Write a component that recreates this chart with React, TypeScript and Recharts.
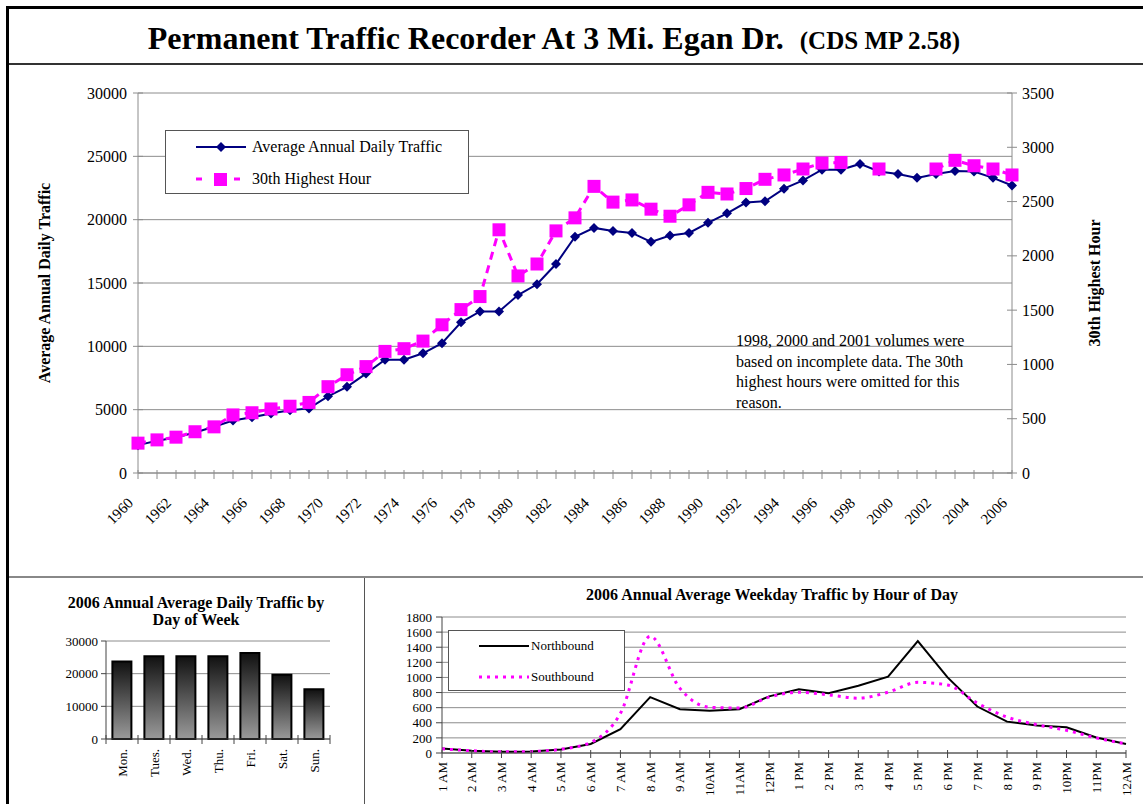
import React from "react";
import { LineChart, BarChart, Line, Bar, XAxis, YAxis, CartesianGrid, Legend } from "recharts";

const SERIF = "'Liberation Serif', 'Times New Roman', serif";

// main chart: 1960-2006
const years = [
  1960, 1961, 1962, 1963, 1964, 1965, 1966, 1967, 1968, 1969,
  1970, 1971, 1972, 1973, 1974, 1975, 1976, 1977, 1978, 1979,
  1980, 1981, 1982, 1983, 1984, 1985, 1986, 1987, 1988, 1989,
  1990, 1991, 1992, 1993, 1994, 1995, 1996, 1997, 1998, 1999,
  2000, 2001, 2002, 2003, 2004, 2005, 2006,
];
const aadt = [
  2200, 2550, 2800, 3200, 3650, 4150, 4400, 4700, 4950, 5100,
  6050, 6800, 7850, 8950, 8950, 9450, 10250, 11900, 12750, 12750,
  14050, 14900, 16500, 18650, 19350, 19100, 18950, 18250, 18750, 18950,
  19750, 20500, 21350, 21450, 22450, 23100, 23950, 23950, 24400, 23800,
  23600, 23300, 23600, 23850, 23800, 23300, 22700,
];
const hour30: (number | null)[] = [
  275, 305, 330, 380, 425, 535, 555, 590, 615, 650,
  795, 905, 980, 1120, 1145, 1215, 1365, 1505, 1625, 2240,
  1815, 1925, 2230, 2350, 2640, 2495, 2515, 2430, 2365, 2470,
  2585, 2570, 2620, 2705, 2745, 2800, 2855, 2860, null, 2800,
  null, null, 2800, 2880, 2830, 2800, 2745,
];
const leftTicks = [0, 5000, 10000, 15000, 20000, 25000, 30000];
const rightTicks = [0, 500, 1000, 1500, 2000, 2500, 3000, 3500];

// day of week bars
const days = ["Mon.", "Tues.", "Wed.", "Thu.", "Fri.", "Sat.", "Sun."];
const dayVolumes = [23700, 25300, 25300, 25300, 26300, 19700, 15200];
const dayTicks = [0, 10000, 20000, 30000];

// hourly weekday traffic
const hours = [
  "1 AM", "2 AM", "3 AM", "4 AM", "5 AM", "6 AM", "7 AM", "8 AM", "9 AM", "10AM", "11AM", "12PM",
  "1 PM", "2 PM", "3 PM", "4 PM", "5 PM", "6 PM", "7 PM", "8 PM", "9 PM", "10PM", "11PM", "12AM",
];
const northbound = [
  60, 30, 15, 20, 45, 120, 315, 740, 580, 560, 580, 750,
  845, 790, 890, 1010, 1480, 1000, 615, 415, 365, 340, 205, 120,
];
const southbound = [
  55, 30, 15, 20, 50, 140, 525, 1545, 855, 605, 595, 740,
  805, 770, 725, 805, 935, 900, 660, 475, 375, 300, 200, 120,
];
const hourTicks = [0, 200, 400, 600, 800, 1000, 1200, 1400, 1600, 1800];

const mainData = years.map((y, i) => ({ year: y, aadt: aadt[i], hour30: hour30[i] }));
const dayData = days.map((d, i) => ({ day: d, volume: dayVolumes[i] }));
const hourData = hours.map((h, i) => ({ hour: h, north: northbound[i], south: southbound[i] }));

const GRID = "#8c8c8c";

function Diamond(props: any) {
  const { cx, cy } = props;
  if (cx == null || cy == null) return null;
  return <path d={`M${cx},${cy - 5}L${cx + 5},${cy}L${cx},${cy + 5}L${cx - 5},${cy}Z`} fill="#000080" />;
}

function Square(props: any) {
  const { cx, cy, value } = props;
  if (cx == null || cy == null || value == null) return null;
  return <rect x={cx - 6.5} y={cy - 6.5} width={13} height={13} fill="#ff00ff" />;
}

function YearTick(props: any) {
  const { x, y, payload } = props;
  const yr = Number(payload.value);
  return (
    <g>
      <line x1={x} y1={y - 3} x2={x} y2={y + 6} stroke={GRID} />
      {yr % 2 === 0 && (
        <text x={x - 4} y={y + 31} textAnchor="end" fontSize={15} fontFamily={SERIF} fill="#000"
          transform={`rotate(-45 ${x - 4} ${y + 31})`}>{yr}</text>
      )}
    </g>
  );
}

function LeftTick(props: any) {
  const { x, y, payload } = props;
  return (
    <g>
      <line x1={x - 5} y1={y} x2={x + 5} y2={y} stroke={GRID} />
      <text x={x - 11} y={y} dy="0.35em" textAnchor="end" fontSize={16} fontFamily={SERIF} fill="#000">{payload.value}</text>
    </g>
  );
}

function RightTick(props: any) {
  const { x, y, payload } = props;
  return (
    <g>
      <line x1={x - 5} y1={y} x2={x + 5} y2={y} stroke={GRID} />
      <text x={x + 10} y={y} dy="0.35em" textAnchor="start" fontSize={16} fontFamily={SERIF} fill="#000">{payload.value}</text>
    </g>
  );
}

function DayTick(props: any) {
  const { x, y, payload, index, visibleTicksCount } = props;
  const half = payload && payload.offset ? payload.offset : 16;
  return (
    <g>
      <line x1={x - half} y1={y - 4} x2={x - half} y2={y + 5} stroke="#444" />
      {index === visibleTicksCount - 1 && <line x1={x + half} y1={y - 4} x2={x + half} y2={y + 5} stroke="#444" />}
      <text x={x} y={y + 10} textAnchor="end" dominantBaseline="central" fontSize={13} fontFamily={SERIF} fill="#000"
        transform={`rotate(-90 ${x} ${y + 10})`}>{payload.value}</text>
    </g>
  );
}

function HourTick(props: any) {
  const { x, y, payload } = props;
  return (
    <g>
      <line x1={x} y1={y - 3} x2={x} y2={y + 5} stroke="#444" />
      <text x={x} y={y + 9} textAnchor="end" dominantBaseline="central" fontSize={13} fontFamily={SERIF} fill="#000"
        transform={`rotate(-90 ${x} ${y + 9})`}>{payload.value}</text>
    </g>
  );
}

const mainOrder = ["aadt", "hour30"];

function MainLegend(props: any) {
  const items = (props.payload || []).slice().sort(
    (a: any, b: any) => mainOrder.indexOf(a.dataKey) - mainOrder.indexOf(b.dataKey)
  );
  return (
    <div style={{ position: "relative", width: 304, height: 64, boxSizing: "border-box", border: "1px solid #555", background: "#fff", fontFamily: SERIF, fontSize: 16 }}>
      {items.map((it: any, i: number) => (
        <div key={it.value} style={{ position: "absolute", left: 28, top: 5 + i * 32, height: 22, display: "flex", alignItems: "center" }}>
          <svg width={54} height={22}>
            {it.dataKey === "aadt" ? (
              <g>
                <line x1={2} y1={11} x2={52} y2={11} stroke="#000080" strokeWidth={2} />
                <path d="M27,6L32,11L27,16L22,11Z" fill="#000080" />
              </g>
            ) : (
              <g>
                <line x1={2} y1={11} x2={8} y2={11} stroke="#ff00ff" strokeWidth={3} />
                <rect x={20} y={5} width={13} height={13} fill="#ff00ff" />
                <line x1={40} y1={11} x2={46} y2={11} stroke="#ff00ff" strokeWidth={3} />
              </g>
            )}
          </svg>
          <span style={{ marginLeft: 4, color: "#000" }}>{it.value}</span>
        </div>
      ))}
    </div>
  );
}

const hourOrder = ["north", "south"];

function HourLegend(props: any) {
  const items = (props.payload || []).slice().sort(
    (a: any, b: any) => hourOrder.indexOf(a.dataKey) - hourOrder.indexOf(b.dataKey)
  );
  return (
    <div style={{ position: "relative", width: 177, height: 61, boxSizing: "border-box", border: "1px solid #555", background: "#fff", fontFamily: SERIF, fontSize: 13 }}>
      {items.map((it: any, i: number) => (
        <div key={it.value} style={{ position: "absolute", left: 30, top: 5 + i * 31, height: 20, display: "flex", alignItems: "center" }}>
          <svg width={52} height={20}>
            {it.dataKey === "north" ? (
              <line x1={0} y1={10} x2={50} y2={10} stroke="#000" strokeWidth={2} />
            ) : (
              <line x1={0} y1={10} x2={50} y2={10} stroke="#ff00ff" strokeWidth={3} strokeDasharray="3 5" />
            )}
          </svg>
          <span style={{ color: "#000" }}>{it.value}</span>
        </div>
      ))}
    </div>
  );
}

function axisTitle(dx: number, text: string) {
  return (p: any) => {
    const vb = p.viewBox;
    const cx = vb.x + dx;
    const cy = vb.y + vb.height / 2;
    return (
      <text x={cx} y={cy} textAnchor="middle" dominantBaseline="central" fontSize={16} fontWeight="bold" fontFamily={SERIF} fill="#000"
        transform={`rotate(-90 ${cx} ${cy})`}>{text}</text>
    );
  };
}

export default function App() {
  return (
    <div style={{ position: "absolute", left: 0, top: 0, width: 1143, height: 804, background: "#fff", overflow: "hidden", fontFamily: SERIF }}>
      {/* frame */}
      <div style={{ position: "absolute", left: 6, top: 6, width: 1137, height: 3, background: "#000" }} />
      <div style={{ position: "absolute", left: 6, top: 6, width: 3, height: 798, background: "#000" }} />
      <div style={{ position: "absolute", left: 9, top: 63, width: 1134, height: 2, background: "#333" }} />
      <div style={{ position: "absolute", left: 9, top: 576, width: 1134, height: 2, background: "#888" }} />
      <div style={{ position: "absolute", left: 364, top: 578, width: 1, height: 226, background: "#555" }} />

      <div style={{ position: "absolute", left: 4, top: 19, width: 1100, textAlign: "center", fontFamily: SERIF, fontWeight: "bold", fontSize: 32, lineHeight: "38px", color: "#000", whiteSpace: "nowrap" }}>
        Permanent Traffic Recorder At 3 Mi. Egan Dr.
        <span style={{ fontSize: 25, marginLeft: 16 }}>(CDS MP 2.58)</span>
      </div>

      <div style={{ position: "absolute", left: 0, top: 64 }}>
        <LineChart width={1143} height={513} data={mainData} margin={{ top: 29, right: 0, bottom: 44, left: 0 }}>
          <CartesianGrid yAxisId="left" vertical={false} stroke={GRID} strokeWidth={1} />
          <XAxis dataKey="year" interval={0} height={60} tickSize={0} tickMargin={0} tick={<YearTick />} axisLine={{ stroke: GRID }} tickLine={false} />
          <YAxis yAxisId="left" domain={[0, 30000]} ticks={leftTicks} width={138} tickSize={0} tickMargin={0} tick={<LeftTick />}
            interval={0} tickLine={false} axisLine={{ stroke: GRID }} label={{ content: axisTitle(44, "Average Annual Daily Traffic") }} />
          <YAxis yAxisId="right" orientation="right" domain={[0, 3500]} ticks={rightTicks} width={131} tickSize={0} tickMargin={0} tick={<RightTick />}
            interval={0} tickLine={false} axisLine={{ stroke: GRID }} label={{ content: axisTitle(82, "30th Highest Hour") }} />
          <Legend layout="vertical" align="center" verticalAlign="middle" content={<MainLegend />}
            wrapperStyle={{ left: 165, top: 66, width: 304, height: 64 }} />
          <Line yAxisId="left" dataKey="aadt" name="Average Annual Daily Traffic" stroke="#000080" strokeWidth={2}
            dot={<Diamond />} activeDot={false} isAnimationActive={false} />
          <Line yAxisId="right" dataKey="hour30" name="30th Highest Hour" stroke="#ff00ff" strokeWidth={3} strokeDasharray="8 6"
            dot={<Square />} activeDot={false} connectNulls={false} isAnimationActive={false} />
        </LineChart>
      </div>

      <div style={{ position: "absolute", left: 736, top: 331, width: 300, fontFamily: SERIF, fontSize: 16, lineHeight: "20.5px", color: "#000" }}>
        1998, 2000 and 2001 volumes were<br />
        based on incomplete data. The 30th<br />
        highest hours were omitted for this<br />
        reason.
      </div>

      {/* day of week */}
      <div style={{ position: "absolute", left: 36, top: 594, width: 320, textAlign: "center", fontFamily: SERIF, fontWeight: "bold", fontSize: 16, lineHeight: "17px", color: "#000" }}>
        2006 Annual Average Daily Traffic by<br />Day of Week
      </div>
      <div style={{ position: "absolute", left: 0, top: 630 }}>
        <BarChart width={364} height={174} data={dayData} margin={{ top: 11, right: 34, bottom: 15, left: 0 }} barCategoryGap="20%">
          <defs>
            <linearGradient id="barGrad" x1="0" y1="0" x2="0" y2="1">
              <stop offset="0%" stopColor="#111" />
              <stop offset="100%" stopColor="#9a9a9a" />
            </linearGradient>
          </defs>
          <CartesianGrid yAxisId="l" vertical={false} stroke={GRID} />
          <XAxis dataKey="day" interval={0} height={50} tickSize={0} tickMargin={0} tick={<DayTick />} tickLine={false} axisLine={{ stroke: "#444" }} />
          <YAxis yAxisId="l" domain={[0, 30000]} ticks={dayTicks} width={106} tickSize={5} tickMargin={3} interval={0}
            tick={{ fontSize: 13, fontFamily: SERIF, fill: "#000" }} tickLine={{ stroke: "#444" }} axisLine={{ stroke: "#444" }} />
          <YAxis yAxisId="r" orientation="right" domain={[0, 1]} width={0} tick={false} tickLine={false} axisLine={{ stroke: GRID }} />
          <Bar yAxisId="l" dataKey="volume" fill="url(#barGrad)" stroke="#000" strokeWidth={2} isAnimationActive={false} />
        </BarChart>
      </div>

      {/* hour of day */}
      <div style={{ position: "absolute", left: 522, top: 586, width: 500, textAlign: "center", fontFamily: SERIF, fontWeight: "bold", fontSize: 16, lineHeight: "17px", color: "#000" }}>
        2006 Annual Average Weekday Traffic by Hour of Day
      </div>
      <div style={{ position: "absolute", left: 364, top: 604 }}>
        <LineChart width={779} height={200} data={hourData} margin={{ top: 13, right: 17, bottom: 6, left: 0 }}>
          <CartesianGrid yAxisId="l" vertical={false} stroke={GRID} />
          <XAxis dataKey="hour" interval={0} height={45} tickSize={0} tickMargin={0} tick={<HourTick />} tickLine={false} axisLine={{ stroke: "#444" }} />
          <YAxis yAxisId="l" domain={[0, 1800]} ticks={hourTicks} width={78} tickSize={6} tickMargin={4} interval={0}
            tick={{ fontSize: 13, fontFamily: SERIF, fill: "#000" }} tickLine={{ stroke: "#444" }} axisLine={{ stroke: "#444" }} />
          <YAxis yAxisId="r" orientation="right" domain={[0, 1]} width={0} tick={false} tickLine={false} axisLine={{ stroke: GRID }} />
          <Legend layout="vertical" align="center" verticalAlign="middle" content={<HourLegend />}
            wrapperStyle={{ left: 84, top: 26, width: 177, height: 61 }} />
          <Line yAxisId="l" dataKey="north" name="Northbound" stroke="#000" strokeWidth={2} dot={false} activeDot={false} isAnimationActive={false} />
          <Line yAxisId="l" dataKey="south" name="Southbound" type="monotone" stroke="#ff00ff" strokeWidth={3} strokeDasharray="3 5"
            dot={false} activeDot={false} isAnimationActive={false} />
        </LineChart>
      </div>
    </div>
  );
}
